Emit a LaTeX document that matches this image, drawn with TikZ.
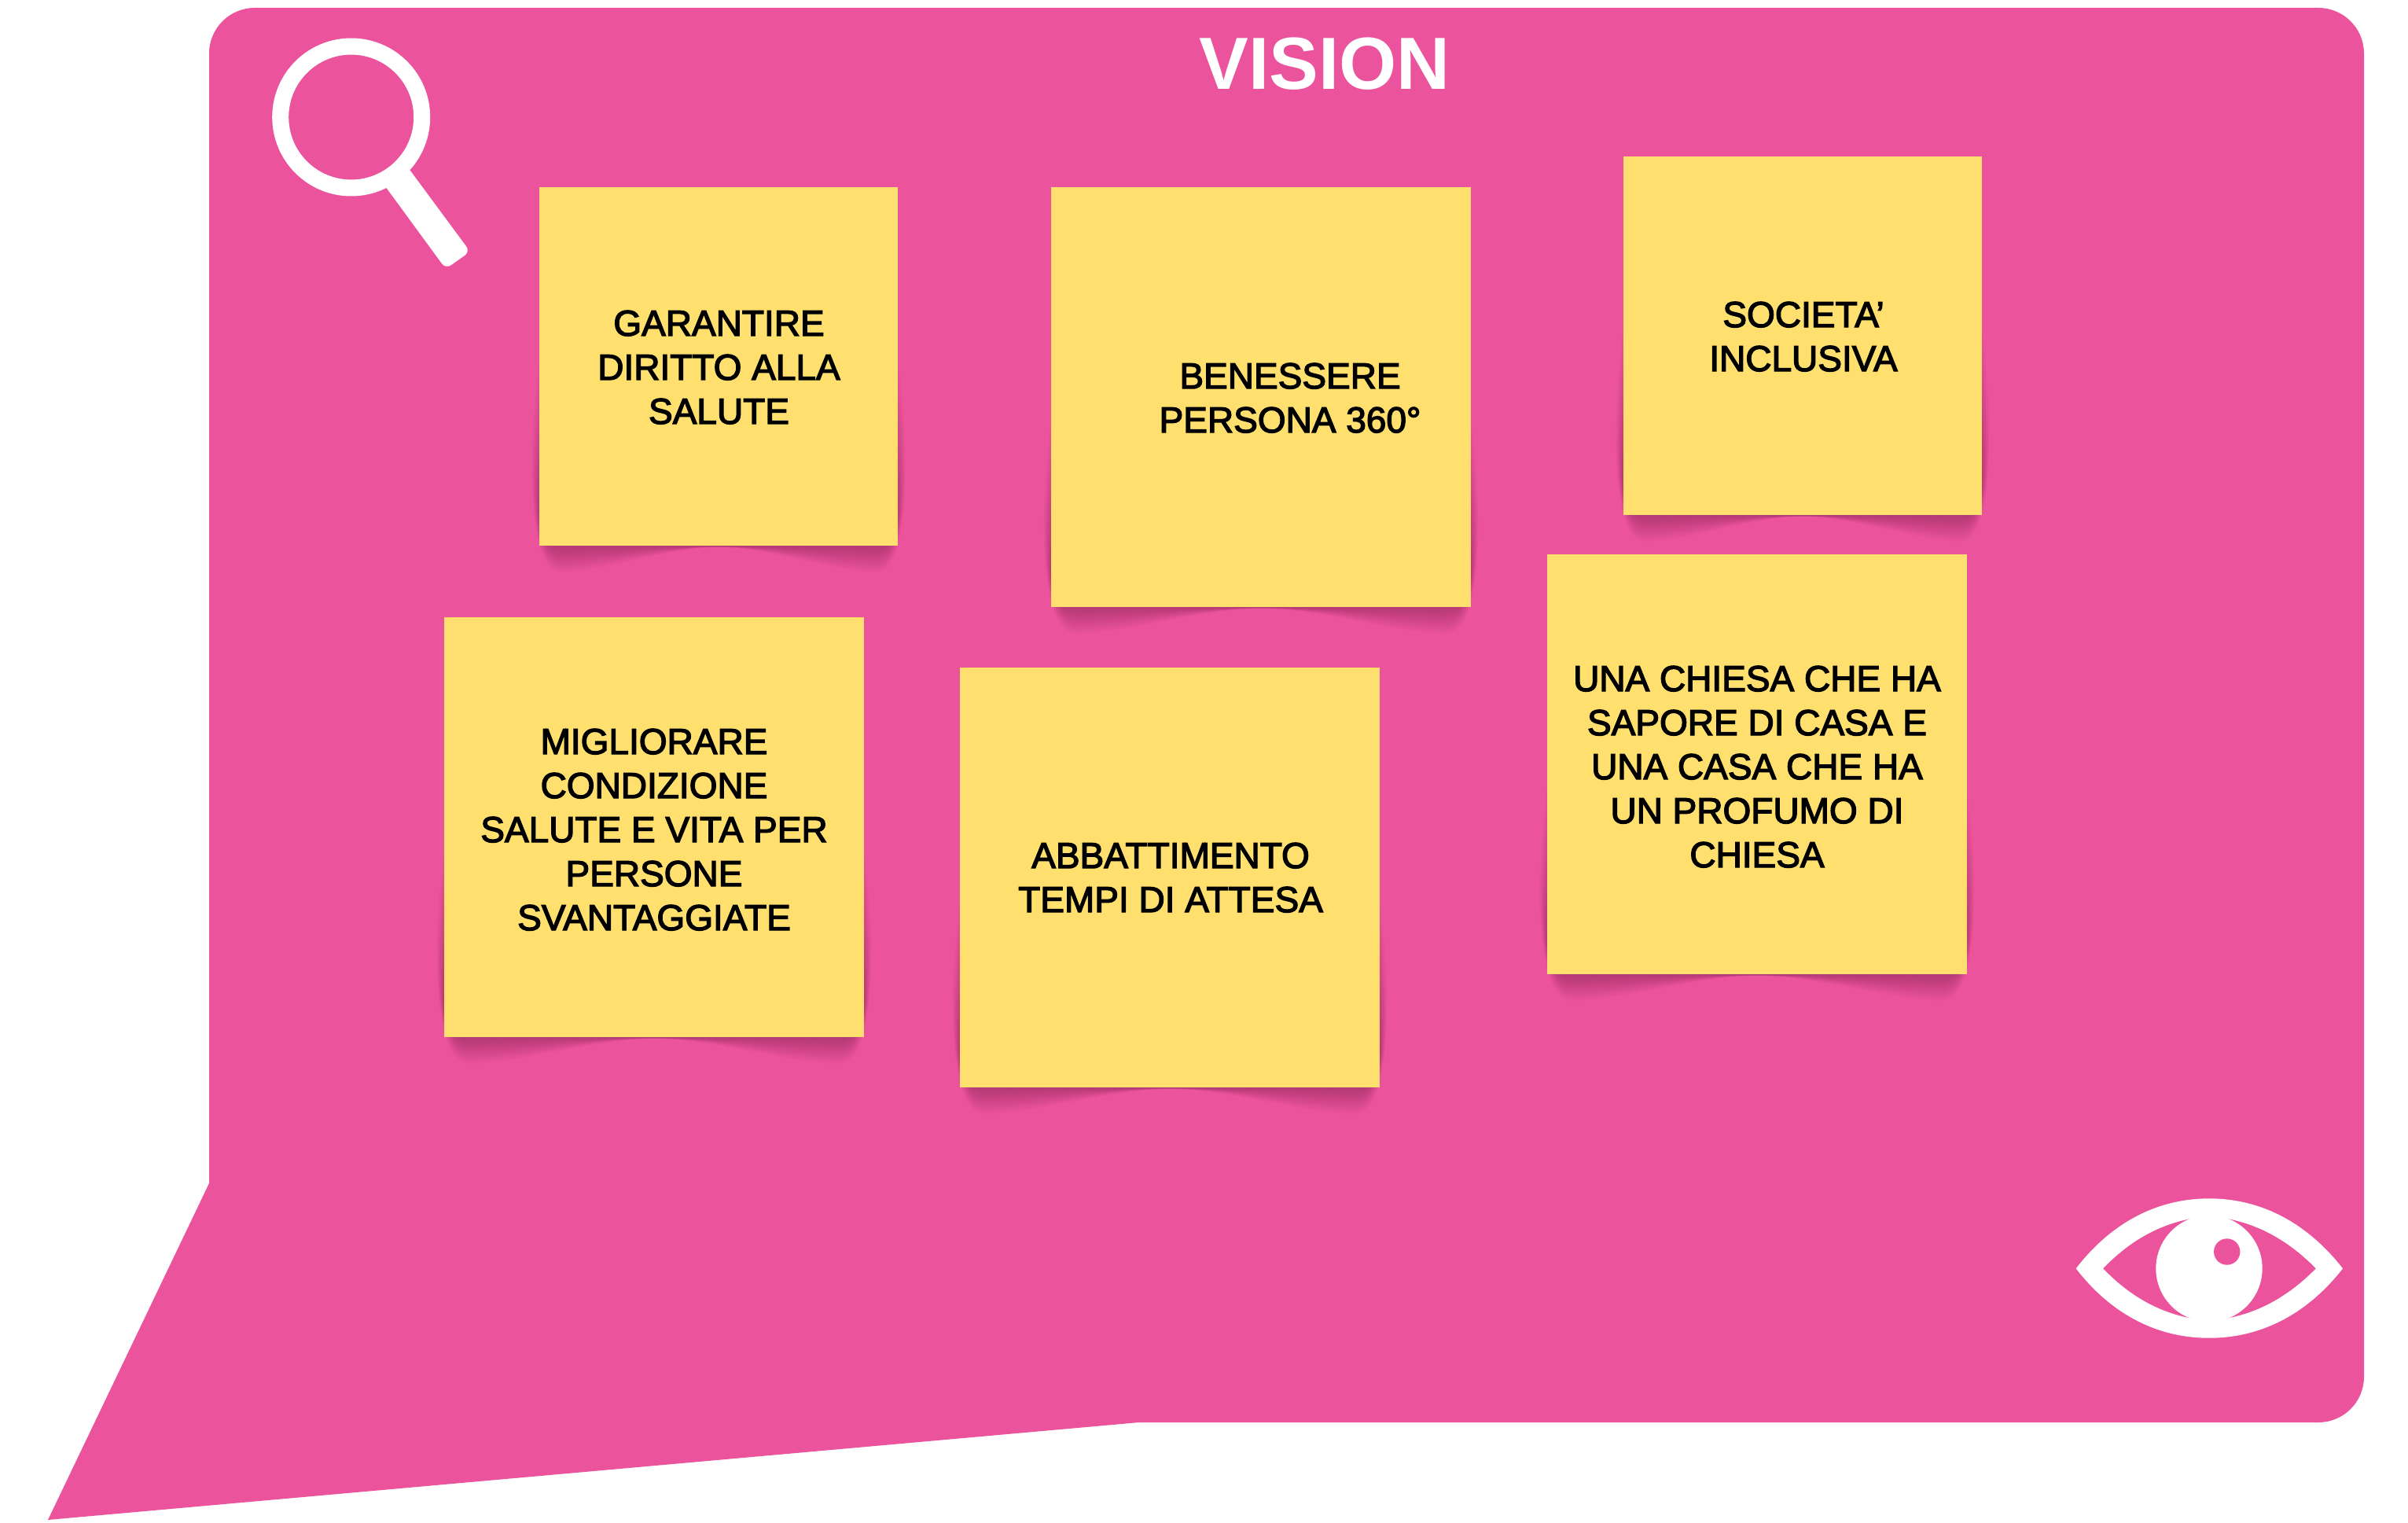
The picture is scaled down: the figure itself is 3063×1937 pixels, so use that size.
\documentclass[tikz,border=0pt]{standalone}
\usepackage{fontspec}
\setmainfont{Liberation Sans}[FakeBold=3]
\newfontfamily\titlefont{Liberation Sans Bold}
\definecolor{pinkbg}{RGB}{235,83,156}
\definecolor{noteyellow}{RGB}{255,224,110}
\tikzset{
  x=0.5pt,y=-0.5pt,
  notebox/.style={fill=noteyellow,inner sep=0pt,outer sep=0pt,anchor=north west,minimum width=#1*0.5pt,minimum height=#1*0.5pt},
  notetext/.style={align=center,inner sep=0pt,anchor=base,font=\fontsize{23}{28}\selectfont,text=black},
  titletext/.style={inner sep=0pt,anchor=base,text=white,font=\titlefont\fontsize{47}{50}\selectfont},
  iconwhite/.style={fill=white},
  iconpink/.style={fill=pinkbg},
}
\newcommand{\shadowfor}[3]{% left, right, bottom
  \pgfmathsetmacro{\shW}{#2-#1}
  \foreach \shI in {1,...,14}{
    \pgfmathsetmacro{\shS}{1.1*\shI}
    \pgfmathsetmacro{\shD}{2.4*\shI}
    \pgfmathsetmacro{\shLa}{#1-\shS}
    \pgfmathsetmacro{\shRa}{#2+\shS}
    \pgfmathsetmacro{\shLc}{#1+0.36*\shW}
    \pgfmathsetmacro{\shLb}{#1+0.18*\shW}
    \pgfmathsetmacro{\shRc}{#2-0.36*\shW}
    \pgfmathsetmacro{\shRb}{#2-0.18*\shW}
    \pgfmathsetmacro{\shM}{(#1+#2)/2}
    \pgfmathsetmacro{\shT}{#3-40-14*\shI}
    \pgfmathsetmacro{\shU}{#3-0.5*(40+14*\shI)}
    \pgfmathsetmacro{\shB}{#3+\shD}
    \pgfmathsetmacro{\shC}{#3+1.5}
    \fill[black,opacity=0.017] (#1,\shT) .. controls (\shLa,\shU) and (\shLa,\shB) .. (#1+0.06*\shW,\shB) .. controls (\shLb,\shB) and (\shLc,\shC) .. (\shM,\shC) .. controls (\shRc,\shC) and (\shRb,\shB) .. (#2-0.06*\shW,\shB) .. controls (\shRa,\shB) and (\shRa,\shU) .. (#2,\shT) -- cycle;
  }
}
\begin{document}
\begin{tikzpicture}
\useasboundingbox (0,0) rectangle (3063,1937);
% callout
\fill[pinkbg] (61,1933) -- (266,1505) -- (266,68) .. controls (266,36) and (292,10) .. (324,10) -- (2949,10) .. controls (2981,10) and (3007,36) .. (3007,68) -- (3007,1751) .. controls (3007,1783) and (2981,1809) .. (2949,1809) -- (1449,1809) -- cycle;
\node[titletext] (title) at (1685,114) {VISION};
% magnifier
\fill[iconwhite,rounded corners=4pt] (483.5,228) -- (513,205) -- (598,320) -- (567,342) -- cycle;
\fill[iconwhite,even odd rule] (446.7,149) circle[radius=100.5] (446.7,149) circle[radius=79.5];
% eye
\fill[iconwhite] (2640.7,1613.3) .. controls (2684,1557) and (2742,1524.3) .. (2810,1524.3) .. controls (2878,1524.3) and (2936,1557) .. (2980,1613.3) .. controls (2936,1669.6) and (2878,1701.7) .. (2810,1701.7) .. controls (2742,1701.7) and (2684,1669.6) .. (2640.7,1613.3) -- cycle;
\fill[iconpink] (2675.3,1613.3) .. controls (2712,1575) and (2756,1551) .. (2810,1547) .. controls (2864,1551) and (2908,1575) .. (2945.7,1613.3) .. controls (2908,1651.6) and (2864,1675.6) .. (2810,1679.6) .. controls (2756,1675.6) and (2712,1651.6) .. (2675.3,1613.3) -- cycle;
\fill[iconwhite] (2810,1613.3) circle[radius=67.7];
\fill[iconpink] (2832.7,1592) circle[radius=16.7];
% notes
\shadowfor{686}{1142}{694}
\shadowfor{1337}{1871}{772}
\shadowfor{2065}{2521}{655}
\shadowfor{565}{1099}{1319}
\shadowfor{1221}{1755}{1383}
\shadowfor{1968}{2502}{1239}
\node[notebox=456] (n1) at (686,238) {};
\node[notebox=534] (n2) at (1337,238) {};
\node[notebox=456] (n3) at (2065,199) {};
\node[notebox=534] (n4) at (565,785) {};
\node[notebox=534] (n5) at (1221,849) {};
\node[notebox=534] (n6) at (1968,705) {};
\node[notetext] (t1) at (914.5,539) {GARANTIRE\\DIRITTO ALLA\\SALUTE};
\node[notetext] (t2) at (1641,550) {BENESSERE\\PERSONA 360°};
\node[notetext] (t3) at (2294,472) {SOCIETA’\\INCLUSIVA};
\node[notetext] (t4) at (832,1183) {MIGLIORARE\\CONDIZIONE\\SALUTE E VITA PER\\PERSONE\\SVANTAGGIATE};
\node[notetext] (t5) at (1489,1160) {ABBATTIMENTO\\TEMPI DI ATTESA};
\node[notetext] (t6) at (2235,1103) {UNA CHIESA CHE HA\\SAPORE DI CASA E\\UNA CASA CHE HA\\UN PROFUMO DI\\CHIESA};
\end{tikzpicture}
\end{document}
